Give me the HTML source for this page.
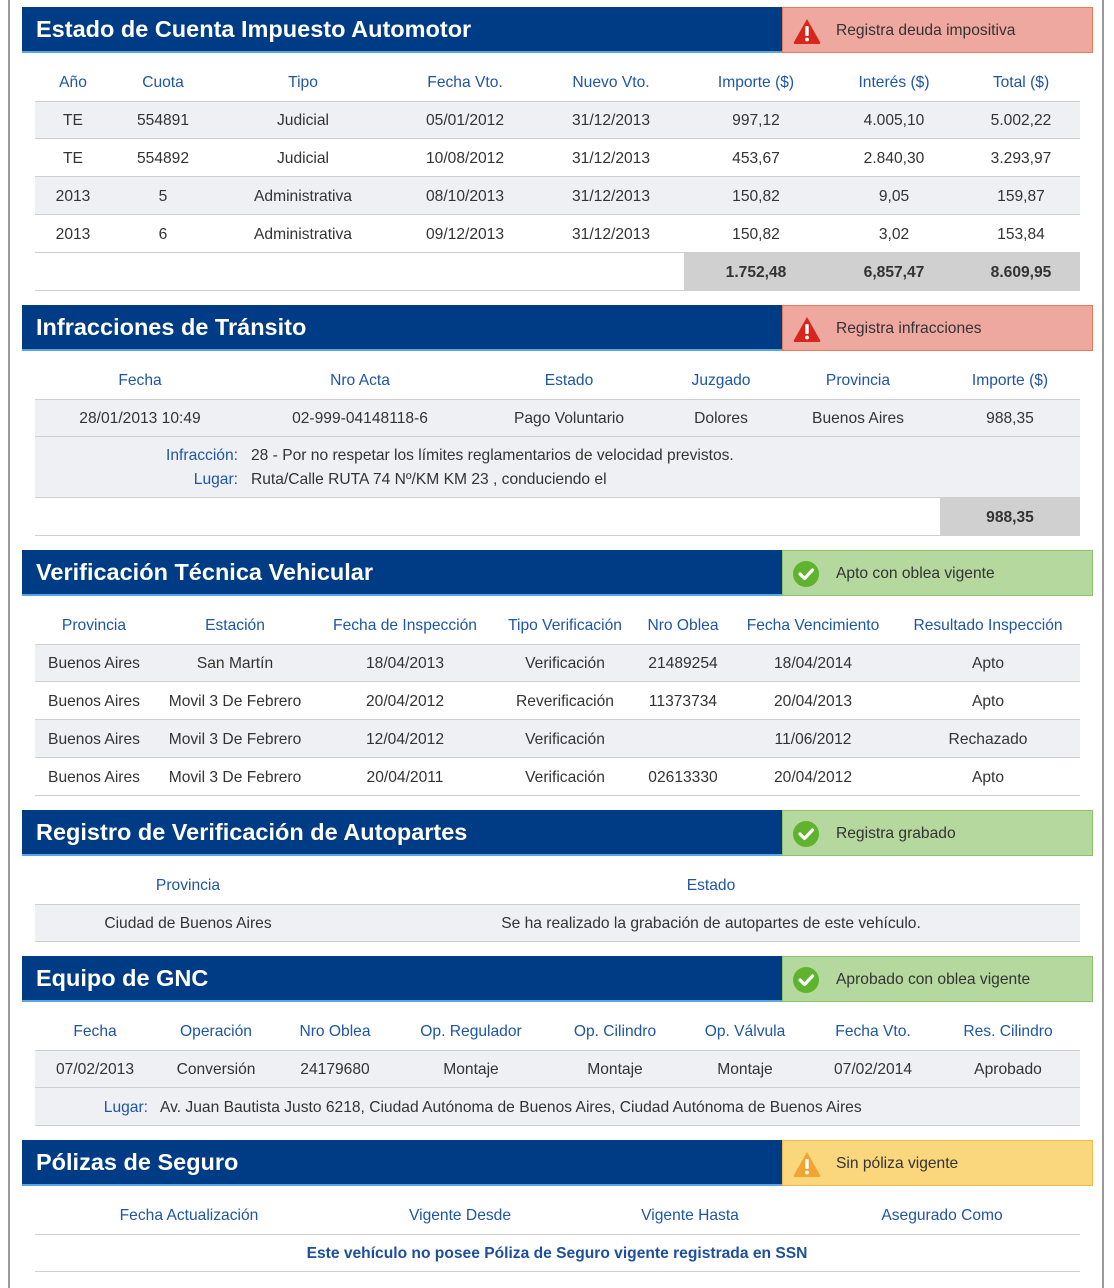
<!DOCTYPE html>
<html><head><meta charset="utf-8"><style>
*{margin:0;padding:0;box-sizing:border-box}
body{width:1114px;height:1280px;background:#fff;position:relative;overflow:hidden;font-family:"Liberation Sans",Arial,sans-serif;}
.frame{position:absolute;left:8px;top:-2px;width:1096px;height:1290px;border-left:2px solid #9a9a9a;border-right:2px solid #9a9a9a}
.hd{position:absolute;left:22px;width:761px;height:46px;background:#003b85;border-bottom:2px solid #5aa6e0;color:#fff;font-weight:bold;font-size:23.5px;padding-left:14px;line-height:44px}
.st{position:absolute;left:782px;width:311px;height:46px;font-size:15.6px;color:#333;line-height:46px;padding-left:53px}
.st svg{position:absolute;left:9px;top:9px}
.red{background:#eea89f;border:1px solid #e77b55}
.grn{background:#b4d89e;border:1px solid #8cc26a}
.yel{background:#fad67c;border:1px solid #f0b84a}
.row{position:absolute;left:35px;width:1045px;height:38px;border-bottom:1px solid #cfcfcf}
.g{background:#eef0f3}
.c{position:absolute;transform:translateX(-50%);white-space:nowrap;font-size:15.6px;line-height:20px;color:#333}
.l{position:absolute;white-space:nowrap;font-size:15.6px;line-height:20px;color:#333}
.b{color:#1e55a5}
.tot{position:absolute;background:#d0d0d0;height:38px}
.bold{font-weight:bold}
</style></head><body>
<div class="frame"></div>

<!-- Section 1 -->
<div class="hd" style="top:7px">Estado de Cuenta Impuesto Automotor</div>
<div class="st red" style="top:7px"><svg width="30" height="28" viewBox="0 0 30 28"><path d="M15 2 L28 25 Q29 27 27 27 L3 27 Q1 27 2 25 Z" fill="#d9261c"/><rect x="13.3" y="9" width="3.4" height="10" rx="1" fill="#fff"/><circle cx="15" cy="22.5" r="1.9" fill="#fff"/></svg>Registra deuda impositiva</div>
<div class="c b" style="left:73px;top:73px">Año</div><div class="c b" style="left:163px;top:73px">Cuota</div><div class="c b" style="left:303px;top:73px">Tipo</div><div class="c b" style="left:465px;top:73px">Fecha Vto.</div><div class="c b" style="left:611px;top:73px">Nuevo Vto.</div><div class="c b" style="left:756px;top:73px">Importe ($)</div><div class="c b" style="left:894px;top:73px">Interés ($)</div><div class="c b" style="left:1021px;top:73px">Total ($)</div>
<div class="row g" style="top:101px;border-top:1px solid #cfcfcf"></div>
<div class="row" style="top:139px"></div>
<div class="row g" style="top:177px"></div>
<div class="row" style="top:215px"></div>
<div class="row" style="top:253px"></div>
<div class="tot" style="left:684px;width:396px;top:253px"></div>
<div class="c" style="left:73px;top:111px">TE</div><div class="c" style="left:163px;top:111px">554891</div><div class="c" style="left:303px;top:111px">Judicial</div><div class="c" style="left:465px;top:111px">05/01/2012</div><div class="c" style="left:611px;top:111px">31/12/2013</div><div class="c" style="left:756px;top:111px">997,12</div><div class="c" style="left:894px;top:111px">4.005,10</div><div class="c" style="left:1021px;top:111px">5.002,22</div>
<div class="c" style="left:73px;top:149px">TE</div><div class="c" style="left:163px;top:149px">554892</div><div class="c" style="left:303px;top:149px">Judicial</div><div class="c" style="left:465px;top:149px">10/08/2012</div><div class="c" style="left:611px;top:149px">31/12/2013</div><div class="c" style="left:756px;top:149px">453,67</div><div class="c" style="left:894px;top:149px">2.840,30</div><div class="c" style="left:1021px;top:149px">3.293,97</div>
<div class="c" style="left:73px;top:187px">2013</div><div class="c" style="left:163px;top:187px">5</div><div class="c" style="left:303px;top:187px">Administrativa</div><div class="c" style="left:465px;top:187px">08/10/2013</div><div class="c" style="left:611px;top:187px">31/12/2013</div><div class="c" style="left:756px;top:187px">150,82</div><div class="c" style="left:894px;top:187px">9,05</div><div class="c" style="left:1021px;top:187px">159,87</div>
<div class="c" style="left:73px;top:225px">2013</div><div class="c" style="left:163px;top:225px">6</div><div class="c" style="left:303px;top:225px">Administrativa</div><div class="c" style="left:465px;top:225px">09/12/2013</div><div class="c" style="left:611px;top:225px">31/12/2013</div><div class="c" style="left:756px;top:225px">150,82</div><div class="c" style="left:894px;top:225px">3,02</div><div class="c" style="left:1021px;top:225px">153,84</div>
<div class="c bold" style="left:756px;top:263px">1.752,48</div><div class="c bold" style="left:894px;top:263px">6,857,47</div><div class="c bold" style="left:1021px;top:263px">8.609,95</div>

<!-- Section 2 -->
<div class="hd" style="top:305px">Infracciones de Tránsito</div>
<div class="st red" style="top:305px"><svg width="30" height="28" viewBox="0 0 30 28"><path d="M15 2 L28 25 Q29 27 27 27 L3 27 Q1 27 2 25 Z" fill="#d9261c"/><rect x="13.3" y="9" width="3.4" height="10" rx="1" fill="#fff"/><circle cx="15" cy="22.5" r="1.9" fill="#fff"/></svg>Registra infracciones</div>
<div class="c b" style="left:140px;top:371px">Fecha</div><div class="c b" style="left:360px;top:371px">Nro Acta</div><div class="c b" style="left:569px;top:371px">Estado</div><div class="c b" style="left:721px;top:371px">Juzgado</div><div class="c b" style="left:858px;top:371px">Provincia</div><div class="c b" style="left:1010px;top:371px">Importe ($)</div>
<div class="row g" style="top:399px;border-top:1px solid #cfcfcf"></div>
<div class="row g" style="top:437px;height:61px"></div>
<div class="row" style="top:498px"></div>
<div class="tot" style="left:940px;width:140px;top:498px"></div>
<div class="c" style="left:140px;top:409px">28/01/2013 10:49</div><div class="c" style="left:360px;top:409px">02-999-04148118-6</div><div class="c" style="left:569px;top:409px">Pago Voluntario</div><div class="c" style="left:721px;top:409px">Dolores</div><div class="c" style="left:858px;top:409px">Buenos Aires</div><div class="c" style="left:1010px;top:409px">988,35</div>
<div class="l b" style="right:876px;top:446px">Infracción:</div><div class="l" style="left:251px;top:446px">28 - Por no respetar los límites reglamentarios de velocidad previstos.</div>
<div class="l b" style="right:876px;top:470px">Lugar:</div><div class="l" style="left:251px;top:470px">Ruta/Calle RUTA 74 Nº/KM KM 23 , conduciendo el</div>
<div class="c bold" style="left:1010px;top:508px">988,35</div>

<!-- Section 3 -->
<div class="hd" style="top:550px">Verificación Técnica Vehicular</div>
<div class="st grn" style="top:550px"><svg width="28" height="28" viewBox="0 0 28 28"><circle cx="14" cy="14" r="13" fill="#5fb32e"/><path d="M8 14 L12.5 18.5 L20.5 10" stroke="#fff" stroke-width="3.2" fill="none" stroke-linecap="round" stroke-linejoin="round"/></svg>Apto con oblea vigente</div>
<div class="c b" style="left:94px;top:616px">Provincia</div><div class="c b" style="left:235px;top:616px">Estación</div><div class="c b" style="left:405px;top:616px">Fecha de Inspección</div><div class="c b" style="left:565px;top:616px">Tipo Verificación</div><div class="c b" style="left:683px;top:616px">Nro Oblea</div><div class="c b" style="left:813px;top:616px">Fecha Vencimiento</div><div class="c b" style="left:988px;top:616px">Resultado Inspección</div>
<div class="row g" style="top:644px;border-top:1px solid #cfcfcf"></div>
<div class="row" style="top:682px"></div>
<div class="row g" style="top:720px"></div>
<div class="row" style="top:758px"></div>
<div class="c" style="left:94px;top:654px">Buenos Aires</div><div class="c" style="left:235px;top:654px">San Martín</div><div class="c" style="left:405px;top:654px">18/04/2013</div><div class="c" style="left:565px;top:654px">Verificación</div><div class="c" style="left:683px;top:654px">21489254</div><div class="c" style="left:813px;top:654px">18/04/2014</div><div class="c" style="left:988px;top:654px">Apto</div>
<div class="c" style="left:94px;top:692px">Buenos Aires</div><div class="c" style="left:235px;top:692px">Movil 3 De Febrero</div><div class="c" style="left:405px;top:692px">20/04/2012</div><div class="c" style="left:565px;top:692px">Reverificación</div><div class="c" style="left:683px;top:692px">11373734</div><div class="c" style="left:813px;top:692px">20/04/2013</div><div class="c" style="left:988px;top:692px">Apto</div>
<div class="c" style="left:94px;top:730px">Buenos Aires</div><div class="c" style="left:235px;top:730px">Movil 3 De Febrero</div><div class="c" style="left:405px;top:730px">12/04/2012</div><div class="c" style="left:565px;top:730px">Verificación</div><div class="c" style="left:813px;top:730px">11/06/2012</div><div class="c" style="left:988px;top:730px">Rechazado</div>
<div class="c" style="left:94px;top:768px">Buenos Aires</div><div class="c" style="left:235px;top:768px">Movil 3 De Febrero</div><div class="c" style="left:405px;top:768px">20/04/2011</div><div class="c" style="left:565px;top:768px">Verificación</div><div class="c" style="left:683px;top:768px">02613330</div><div class="c" style="left:813px;top:768px">20/04/2012</div><div class="c" style="left:988px;top:768px">Apto</div>

<!-- Section 4 -->
<div class="hd" style="top:810px">Registro de Verificación de Autopartes</div>
<div class="st grn" style="top:810px"><svg width="28" height="28" viewBox="0 0 28 28"><circle cx="14" cy="14" r="13" fill="#5fb32e"/><path d="M8 14 L12.5 18.5 L20.5 10" stroke="#fff" stroke-width="3.2" fill="none" stroke-linecap="round" stroke-linejoin="round"/></svg>Registra grabado</div>
<div class="c b" style="left:188px;top:876px">Provincia</div><div class="c b" style="left:711px;top:876px">Estado</div>
<div class="row g" style="top:904px;border-top:1px solid #cfcfcf"></div>
<div class="c" style="left:188px;top:914px">Ciudad de Buenos Aires</div><div class="c" style="left:711px;top:914px">Se ha realizado la grabación de autopartes de este vehículo.</div>

<!-- Section 5 -->
<div class="hd" style="top:956px">Equipo de GNC</div>
<div class="st grn" style="top:956px"><svg width="28" height="28" viewBox="0 0 28 28"><circle cx="14" cy="14" r="13" fill="#5fb32e"/><path d="M8 14 L12.5 18.5 L20.5 10" stroke="#fff" stroke-width="3.2" fill="none" stroke-linecap="round" stroke-linejoin="round"/></svg>Aprobado con oblea vigente</div>
<div class="c b" style="left:95px;top:1022px">Fecha</div><div class="c b" style="left:216px;top:1022px">Operación</div><div class="c b" style="left:335px;top:1022px">Nro Oblea</div><div class="c b" style="left:471px;top:1022px">Op. Regulador</div><div class="c b" style="left:615px;top:1022px">Op. Cilindro</div><div class="c b" style="left:745px;top:1022px">Op. Válvula</div><div class="c b" style="left:873px;top:1022px">Fecha Vto.</div><div class="c b" style="left:1008px;top:1022px">Res. Cilindro</div>
<div class="row g" style="top:1050px;border-top:1px solid #cfcfcf"></div>
<div class="row g" style="top:1088px"></div>
<div class="c" style="left:95px;top:1060px">07/02/2013</div><div class="c" style="left:216px;top:1060px">Conversión</div><div class="c" style="left:335px;top:1060px">24179680</div><div class="c" style="left:471px;top:1060px">Montaje</div><div class="c" style="left:615px;top:1060px">Montaje</div><div class="c" style="left:745px;top:1060px">Montaje</div><div class="c" style="left:873px;top:1060px">07/02/2014</div><div class="c" style="left:1008px;top:1060px">Aprobado</div>
<div class="l b" style="right:966px;top:1098px">Lugar:</div><div class="l" style="left:160px;top:1098px">Av. Juan Bautista Justo 6218, Ciudad Autónoma de Buenos Aires, Ciudad Autónoma de Buenos Aires</div>

<!-- Section 6 -->
<div class="hd" style="top:1140px">Pólizas de Seguro</div>
<div class="st yel" style="top:1140px"><svg width="30" height="28" viewBox="0 0 30 28"><path d="M15 2 L28 25 Q29 27 27 27 L3 27 Q1 27 2 25 Z" fill="#f2a431"/><rect x="13.3" y="9" width="3.4" height="10" rx="1" fill="#fff"/><circle cx="15" cy="22.5" r="1.9" fill="#fff"/></svg>Sin póliza vigente</div>
<div class="c b" style="left:189px;top:1206px">Fecha Actualización</div><div class="c b" style="left:460px;top:1206px">Vigente Desde</div><div class="c b" style="left:690px;top:1206px">Vigente Hasta</div><div class="c b" style="left:942px;top:1206px">Asegurado Como</div>
<div class="row" style="top:1234px;border-top:1px solid #cfcfcf"></div>
<div class="c b bold" style="left:557px;top:1244px;color:#1d4f9c">Este vehículo no posee Póliza de Seguro vigente registrada en SSN</div>
</body></html>
